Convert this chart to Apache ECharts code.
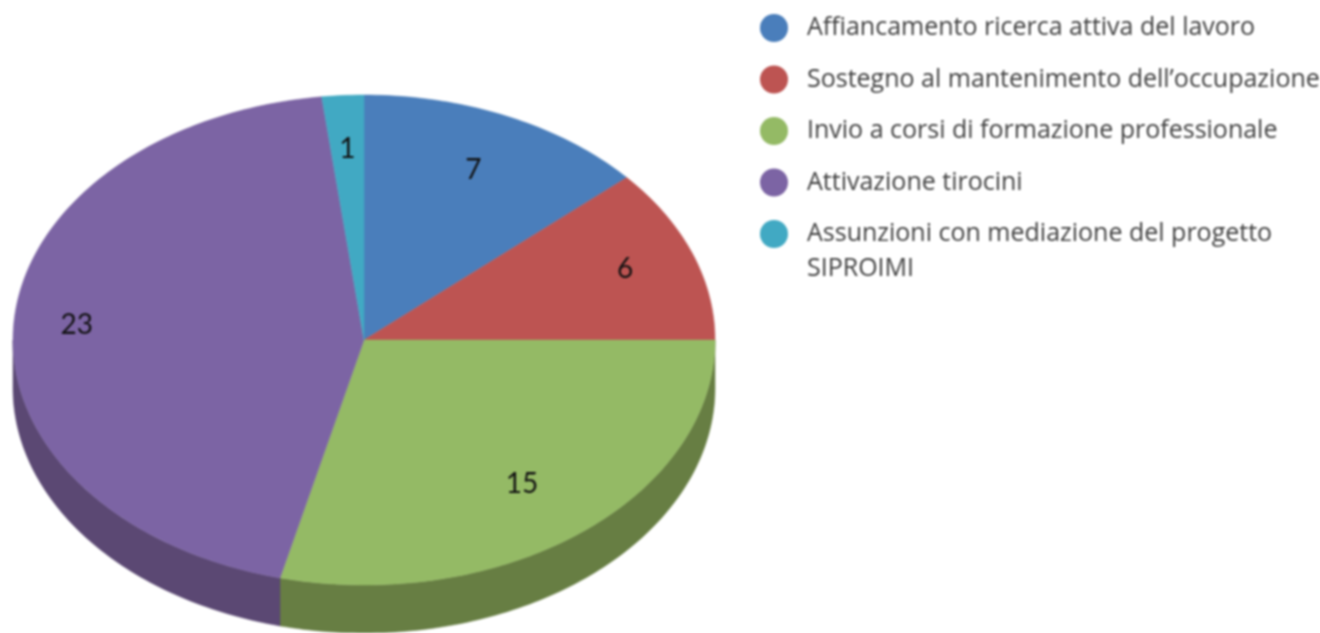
<!DOCTYPE html>
<html>
<head>
<meta charset="utf-8">
<style>
html,body{margin:0;padding:0;background:#fff;}
#main{width:1320px;height:633px;filter:blur(1px);}
</style>
<script src="https://cdn.jsdelivr.net/npm/echarts@6/dist/echarts.min.js"></script>
</head>
<body>
<div id="main"></div>
<script>
var categories = ['Affiancamento ricerca attiva del lavoro', 'Sostegno al mantenimento dell’occupazione', 'Invio a corsi di formazione professionale', 'Attivazione tirocini', 'Assunzioni con mediazione del progetto\nSIPROIMI'];
var values = [7, 6, 15, 23, 1];
var topColors = ['#4a7ebb', '#bd5452', '#94ba65', '#7c64a4', '#41a9c3'];
var sideColors = ['#37608f', '#8f3d3b', '#677e43', '#5b4873', '#2f7f93'];
// how far out along each slice the number sits, horizontally and vertically
var labelRadiusX = [0.76, 0.796, 0.73, 0.82, 0.78];
var labelRadiusY = [0.76, 0.82, 0.745, 1.0, 0.78];

// the pie is squashed (fake 3d), so sectors are drawn on an ellipse
var cx = 364, cy = 340, rx = 351, ry = 245, depth = 48;

var total = values.reduce(function (a, b) { return a + b; }, 0);

function pt(deg, dy) {
    var t = deg * Math.PI / 180;
    return [cx + rx * Math.sin(t), cy - ry * Math.cos(t) + (dy || 0)];
}

function arc(from, to, dy) {
    var pts = [];
    var n = Math.max(2, Math.ceil(Math.abs(to - from)));
    for (var i = 0; i <= n; i++) {
        pts.push(pt(from + (to - from) * i / n, dy));
    }
    return pts;
}

function makeRender(idx, start) {
    return function (params, api) {
        var val = api.value(0);
        var a0 = start / total * 360;
        var a1 = (start + val) / total * 360;
        var children = [];

        // side wall, only the front half of the rim shows
        var w0 = Math.max(a0, 90), w1 = Math.min(a1, 270);
        if (w1 > w0) {
            children.push({
                type: 'polygon',
                shape: { points: arc(w0, w1, 0).concat(arc(w1, w0, depth)) },
                style: { fill: sideColors[idx], stroke: sideColors[idx], lineWidth: 0.5 }
            });
        }

        children.push({
            type: 'polygon',
            shape: { points: [[cx, cy]].concat(arc(a0, a1, 0)) },
            style: { fill: topColors[idx], stroke: topColors[idx], lineWidth: 0.5 }
        });

        var mid = (a0 + a1) / 2 * Math.PI / 180;
        children.push({
            type: 'text',
            style: {
                text: String(val),
                x: cx + rx * labelRadiusX[idx] * Math.sin(mid),
                y: cy - ry * labelRadiusY[idx] * Math.cos(mid),
                fill: '#111',
                font: '28px Lato',
                align: 'center',
                verticalAlign: 'middle'
            }
        });
        return { type: 'group', children: children };
    };
}

var series = [];
var running = 0;
values.forEach(function (v, i) {
    series.push({
        name: categories[i].split('\n')[0],
        type: 'custom',
        coordinateSystem: 'none',
        itemStyle: { color: topColors[i] },
        data: [[v]],
        renderItem: makeRender(i, running),
        silent: true
    });
    running += v;
});

var chart = echarts.init(document.getElementById('main'));
chart.setOption({
    backgroundColor: '#fff',
    animation: false,
    legend: {
        show: true,
        orient: 'vertical',
        left: 760,
        top: 14,
        padding: 0,
        icon: 'circle',
        itemWidth: 28,
        itemHeight: 28,
        itemGap: 23.5,
        selectedMode: false,
        textStyle: { fontFamily: 'Open Sans', fontSize: 25, color: '#404040', padding: [2, 0, 0, 14] },
        data: series.map(function (s) { return s.name; })
    },
    graphic: [{
        type: 'text',
        left: 807,
        top: 256,
        style: { text: categories[4].split('\n')[1], font: '25px "Open Sans"', fill: '#404040' }
    }],
    series: series
});
</script>
</body>
</html>
